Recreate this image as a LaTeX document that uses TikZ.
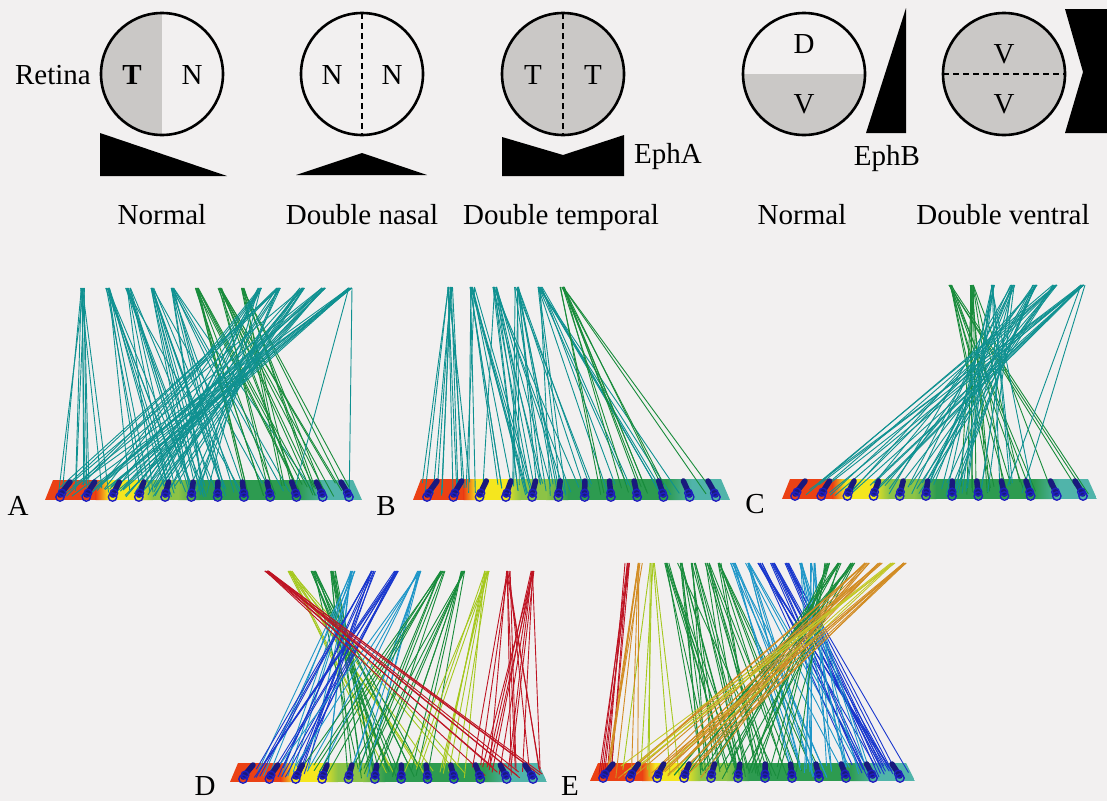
\documentclass[tikz,border=0pt]{standalone}
\usepackage{fontspec}
\setmainfont{Liberation Serif}

\definecolor{bg}{RGB}{242,240,240}
\definecolor{retgrey}{RGB}{202,200,198}
\definecolor{fteal}{RGB}{15,145,145}
\definecolor{fgreen}{RGB}{25,140,60}
\definecolor{fblue}{RGB}{25,55,205}
\definecolor{fcyan}{RGB}{30,150,200}
\definecolor{fred}{RGB}{190,20,35}
\definecolor{fyg}{RGB}{165,200,30}
\definecolor{forange}{RGB}{210,140,35}
\definecolor{fyellow}{RGB}{195,200,40}
\definecolor{tred}{RGB}{235,65,20}
\definecolor{tyellow}{RGB}{245,230,30}
\definecolor{tlgreen}{RGB}{140,195,70}
\definecolor{tgreen}{RGB}{45,155,80}
\definecolor{tteal}{RGB}{80,180,170}
\definecolor{navy}{RGB}{25,25,125}
\definecolor{eblue}{RGB}{30,30,190}

% a bundle of fibres from one retinal position to a range of tectal positions
% #1 top x, #2 top y, #3/#4 target x range, #5 count, #6 colour, #7 target y
\newcommand\fibrefan[7]{%
  \foreach \k in {1,...,#5}{%
    \pgfmathsetmacro\tx{#1+5*rnd-2.5}%
    \pgfmathsetmacro\bx{#3+(#4-#3)*rnd}%
    \pgfmathsetmacro\by{#7+14*rnd}%
    \draw[fib,draw=#6] (\tx,#2) -- (\bx,\by);
  }}

% twelve recording electrodes along a tectum
% #1 first x, #2 last x, #3 bottom y, #4 top y
\newcommand\electrodes[4]{%
  \foreach \i in {0,...,11}{%
    \pgfmathsetmacro\ex{#1+\i*(#2-#1)/11}%
    \pgfmathsetmacro\et{10-18*\i/11}%
    \draw[elec] (\ex,#3-2) -- (\ex+\et,#4);
    \draw[ering] (\ex,#3) circle[radius=4.2];
    \draw[ering] ({\ex+0.2*\et},#3-4) circle[radius=3.8];
  }}

% colour-coded tectum strip
% #1 left bottom x, #2 right bottom x, #3 top y, #4 bottom y
\newcommand\tectumbar[4]{%
  \begin{scope}
    \clip (#1,#4) -- (#1+8,#3) -- (#2-9,#3) -- (#2,#4) -- cycle;
    \pgfmathsetmacro\barw{#2-#1}
    \fill[tred] (#1,#3) rectangle ({#1+0.16*\barw},#4);
    \shade[left color=tred,right color=tyellow] ({#1+0.16*\barw},#3) rectangle ({#1+0.2*\barw},#4);
    \fill[tyellow] ({#1+0.2*\barw},#3) rectangle ({#1+0.29*\barw},#4);
    \shade[left color=tyellow,right color=tlgreen] ({#1+0.29*\barw},#3) rectangle ({#1+0.34*\barw},#4);
    \fill[tlgreen] ({#1+0.34*\barw},#3) rectangle ({#1+0.42*\barw},#4);
    \shade[left color=tlgreen,right color=tgreen] ({#1+0.42*\barw},#3) rectangle ({#1+0.49*\barw},#4);
    \fill[tgreen] ({#1+0.49*\barw},#3) rectangle ({#1+0.8*\barw},#4);
    \shade[left color=tgreen,right color=tteal] ({#1+0.8*\barw},#3) rectangle ({#1+0.88*\barw},#4);
    \fill[tteal] ({#1+0.88*\barw},#3) rectangle (#2,#4);
  \end{scope}}

\begin{document}
\begin{tikzpicture}[x=1pt,y=-1pt,
  ring/.style={line width=2.6pt},
  divider/.style={line width=2.4pt,dash pattern=on 6pt off 4pt},
  lbl/.style={font=\fontsize{29}{34}\selectfont,inner sep=0pt},
  wedge/.style={fill=black},
  fib/.style={line width=0.9pt},
  elec/.style={line width=5.5pt,line cap=round,draw=navy},
  ering/.style={line width=1.4pt,draw=eblue}]

\fill[bg] (0,0) rectangle (1107,801);
\useasboundingbox (0,0) rectangle (1107,801);
\pgfmathsetseed{4217}

% ---------- retina schemes ----------
% normal (temporal-nasal)
\begin{scope}
  \clip (162,74) circle[radius=61];
  \fill[retgrey] (100,10) rectangle (162,140);
\end{scope}
\draw[ring] (162,74) circle[radius=61];
\node[lbl,anchor=base] (tn1) at (132,84) {\textbf{T}};
\node[lbl,anchor=base] (nn1) at (192,84) {N};
\node[lbl,anchor=base east] (retina) at (91,84) {Retina};
\fill[wedge] (100,133) -- (100,176) -- (227,176) -- cycle;
\node[lbl,anchor=base] (normA) at (162,224) {Normal};

% double nasal
\draw[ring] (362,74) circle[radius=61];
\draw[divider] (362,13) -- (362,135);
\node[lbl,anchor=base] (dn1) at (332,84) {N};
\node[lbl,anchor=base] (dn2) at (392,84) {N};
\fill[wedge] (296,175) -- (362,153) -- (427,175) -- cycle;
\node[lbl,anchor=base] (dnas) at (362,224) {Double nasal};

% double temporal
\fill[retgrey] (563,74) circle[radius=61];
\draw[ring] (563,74) circle[radius=61];
\draw[divider] (563,13) -- (563,135);
\node[lbl,anchor=base] (dt1) at (533,84) {T};
\node[lbl,anchor=base] (dt2) at (593,84) {T};
\fill[wedge] (502,137) -- (563,155) -- (624,135) -- (624,176) -- (502,176) -- cycle;
\node[lbl,anchor=base west] (epha) at (634,163) {EphA};
\node[lbl,anchor=base] (dtemp) at (561,224) {Double temporal};

% normal (dorsal-ventral)
\begin{scope}
  \clip (804,74) circle[radius=61];
  \fill[retgrey] (740,74) rectangle (870,140);
\end{scope}
\draw[ring] (804,74) circle[radius=61];
\node[lbl,anchor=base] (dd) at (804,53) {D};
\node[lbl,anchor=base] (dv) at (804,113) {V};
\fill[wedge] (866,133) -- (906,133) -- (906,8) -- cycle;
\node[lbl,anchor=base] (ephb) at (887,165) {EphB};
\node[lbl,anchor=base] (normB) at (802,224) {Normal};

% double ventral
\fill[retgrey] (1004,74) circle[radius=61];
\draw[ring] (1004,74) circle[radius=61];
\draw[divider] (943,74) -- (1065,74);
\node[lbl,anchor=base] (vv1) at (1004,63) {V};
\node[lbl,anchor=base] (vv2) at (1004,113) {V};
\fill[wedge] (1065,9) -- (1107,9) -- (1107,133) -- (1065,133) -- (1083,72) -- cycle;
\node[lbl,anchor=base] (dvent) at (1003,224) {Double ventral};

% ---------- panel A ----------
\tectumbar{45}{362}{480}{500}
\fibrefan{82}{288}{55}{110}{10}{fteal}{483}
\fibrefan{107}{288}{120}{200}{10}{fteal}{483}
\fibrefan{128}{288}{140}{260}{10}{fteal}{483}
\fibrefan{152}{288}{170}{300}{10}{fteal}{483}
\fibrefan{173}{288}{200}{330}{10}{fteal}{483}
\fibrefan{197}{288}{240}{345}{10}{fgreen}{483}
\fibrefan{220}{288}{260}{355}{10}{fgreen}{483}
\fibrefan{242}{288}{280}{355}{8}{fgreen}{483}
\fibrefan{260}{288}{80}{220}{10}{fteal}{483}
\fibrefan{278}{288}{60}{200}{10}{fteal}{483}
\fibrefan{302}{288}{55}{180}{10}{fteal}{483}
\fibrefan{323}{288}{55}{160}{10}{fteal}{483}
\fibrefan{350}{288}{55}{140}{10}{fteal}{483}
\fibrefan{350}{288}{290}{350}{2}{fteal}{483}
\electrodes{60}{349}{497}{482}
\node[lbl,anchor=base] (pa) at (18,515) {A};

% ---------- panel B ----------
\tectumbar{413}{730}{479}{500}
\fibrefan{450}{287}{418}{470}{12}{fteal}{482}
\fibrefan{472}{287}{450}{540}{12}{fteal}{482}
\fibrefan{495}{287}{480}{580}{12}{fteal}{482}
\fibrefan{517}{287}{510}{640}{12}{fteal}{482}
\fibrefan{540}{287}{540}{680}{12}{fteal}{482}
\fibrefan{562}{287}{600}{715}{12}{fgreen}{482}
\electrodes{427}{716}{497}{481}
\node[lbl,anchor=base] (pb) at (386,515) {B};

% ---------- panel C ----------
\tectumbar{782}{1097}{479}{499}
\fibrefan{950}{285}{990}{1090}{10}{fgreen}{482}
\fibrefan{972}{285}{960}{1060}{10}{fgreen}{482}
\fibrefan{993}{285}{940}{1040}{10}{fteal}{482}
\fibrefan{1013}{285}{880}{1000}{10}{fteal}{482}
\fibrefan{1035}{285}{820}{960}{10}{fteal}{482}
\fibrefan{1055}{285}{800}{920}{10}{fteal}{482}
\fibrefan{1083}{285}{795}{880}{10}{fteal}{482}
\fibrefan{1083}{285}{1000}{1030}{2}{fteal}{482}
\electrodes{795}{1083}{496}{481}
\node[lbl,anchor=base] (pc) at (755,513) {C};

% ---------- panel D ----------
\tectumbar{230}{547}{763}{782}
\fibrefan{290}{571}{370}{470}{9}{fyg}{765}
\fibrefan{313}{571}{340}{430}{9}{fgreen}{765}
\fibrefan{333}{571}{330}{420}{9}{fgreen}{765}
\fibrefan{353}{571}{250}{330}{9}{fcyan}{765}
\fibrefan{373}{571}{240}{310}{9}{fblue}{765}
\fibrefan{397}{571}{240}{300}{9}{fblue}{765}
\fibrefan{420}{571}{260}{370}{9}{fcyan}{765}
\fibrefan{443}{571}{300}{400}{9}{fgreen}{765}
\fibrefan{463}{571}{340}{430}{9}{fgreen}{765}
\fibrefan{487}{571}{400}{470}{9}{fyg}{765}
\fibrefan{508}{571}{470}{545}{9}{fred}{765}
\fibrefan{532}{571}{480}{545}{9}{fred}{765}
\fibrefan{267}{571}{470}{545}{9}{fred}{765}
\electrodes{243}{533}{779}{765}
\node[lbl,anchor=base] (pd) at (205,795) {D};

% ---------- panel E ----------
\tectumbar{590}{915}{763}{781}
\fibrefan{652}{563}{620}{700}{6}{fyg}{765}
\fibrefan{667}{563}{680}{760}{7}{fgreen}{765}
\fibrefan{680}{563}{700}{780}{7}{fgreen}{765}
\fibrefan{693}{563}{700}{790}{7}{fgreen}{765}
\fibrefan{707}{563}{720}{810}{7}{fgreen}{765}
\fibrefan{720}{563}{740}{820}{7}{fgreen}{765}
\fibrefan{733}{563}{790}{850}{7}{fcyan}{765}
\fibrefan{747}{563}{800}{870}{7}{fcyan}{765}
\fibrefan{760}{563}{840}{905}{7}{fblue}{765}
\fibrefan{773}{563}{860}{910}{7}{fblue}{765}
\fibrefan{787}{563}{870}{912}{7}{fblue}{765}
\fibrefan{800}{563}{810}{870}{7}{fcyan}{765}
\fibrefan{813}{563}{800}{860}{7}{fcyan}{765}
\fibrefan{827}{563}{700}{800}{7}{fgreen}{765}
\fibrefan{840}{563}{680}{780}{7}{fgreen}{765}
\fibrefan{853}{563}{650}{760}{7}{fgreen}{765}
\fibrefan{867}{563}{620}{720}{7}{forange}{765}
\fibrefan{880}{563}{610}{700}{7}{forange}{765}
\fibrefan{893}{563}{620}{680}{6}{fyellow}{765}
\fibrefan{905}{563}{600}{690}{7}{forange}{765}
\fibrefan{627}{563}{598}{612}{7}{fred}{765}
\fibrefan{640}{563}{605}{640}{7}{forange}{765}
\electrodes{603}{900}{778}{764}
\node[lbl,anchor=base] (pe) at (570,795) {E};

\end{tikzpicture}
\end{document}
